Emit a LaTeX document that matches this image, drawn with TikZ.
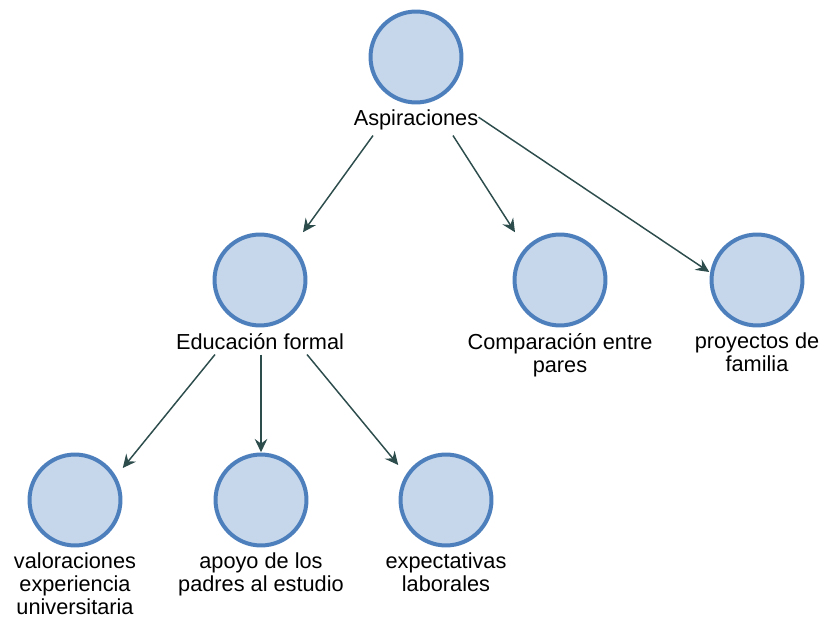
\documentclass[tikz,border=0pt]{standalone}
\usepackage{fontspec}
\setmainfont{Liberation Sans}
\usetikzlibrary{arrows.meta,positioning}
\definecolor{ringblue}{RGB}{76,127,188}
\definecolor{ringfill}{RGB}{198,215,236}
\definecolor{linkgray}{RGB}{45,76,76}

\begin{document}
\begin{tikzpicture}[x=0.75pt,y=-0.75pt,>={Stealth[length=10pt,width=9.5pt,inset=3.5pt]}]
  \tikzstyle{concept}=[rectangle,minimum size=71.25pt,inner sep=0pt]
  \tikzstyle{ring}=[draw=ringblue,fill=ringfill,line width=3pt]
  \tikzstyle{caption}=[align=center,inner sep=0pt,font=\fontsize{16.3pt}{17.3pt}\selectfont]
  \tikzstyle{link}=[->,draw=linkgray,line width=1.1pt]
  \useasboundingbox (0,0) rectangle (820,623);
  \foreach \name/\x/\y/\txt in {asp/416/57/{Aspiraciones}, edu/260/280/{Educación formal},
      cmp/560/280/{Comparación entre\\pares}, fam/757/280/{proyectos de\\familia},
      val/75/500/{valoraciones\\experiencia\\universitaria}, apo/261/500/{apoyo de los\\padres al estudio},
      exp/446/500/{expectativas\\laborales}}{
    \node[concept] (C-\name) at (\x,\y) {};
    \draw[ring] (C-\name) circle (34.1pt);
    \node[caption,below=3.75pt of C-\name] (\name) {\txt};
  }
  \draw[link] ([shift={(-43,5)}]asp.south) -- ([shift={(43,0)}]C-edu.north);
  \draw[link] ([shift={(37,5)}]asp.south) -- ([shift={(-45,0)}]C-cmp.north);
  \draw[link] ([shift={(0,-3)}]asp.east) -- ([shift={(0,-8)}]C-fam.west);
  \draw[link] ([shift={(-45,5)}]edu.south) -- ([shift={(0,-32)}]C-val.east);
  \draw[link] (edu.south -| C-apo) ++(0,5) -- (C-apo.north);
  \draw[link] ([shift={(47,5)}]edu.south) -- ([shift={(0,-35)}]C-exp.west);
\end{tikzpicture}
\end{document}
